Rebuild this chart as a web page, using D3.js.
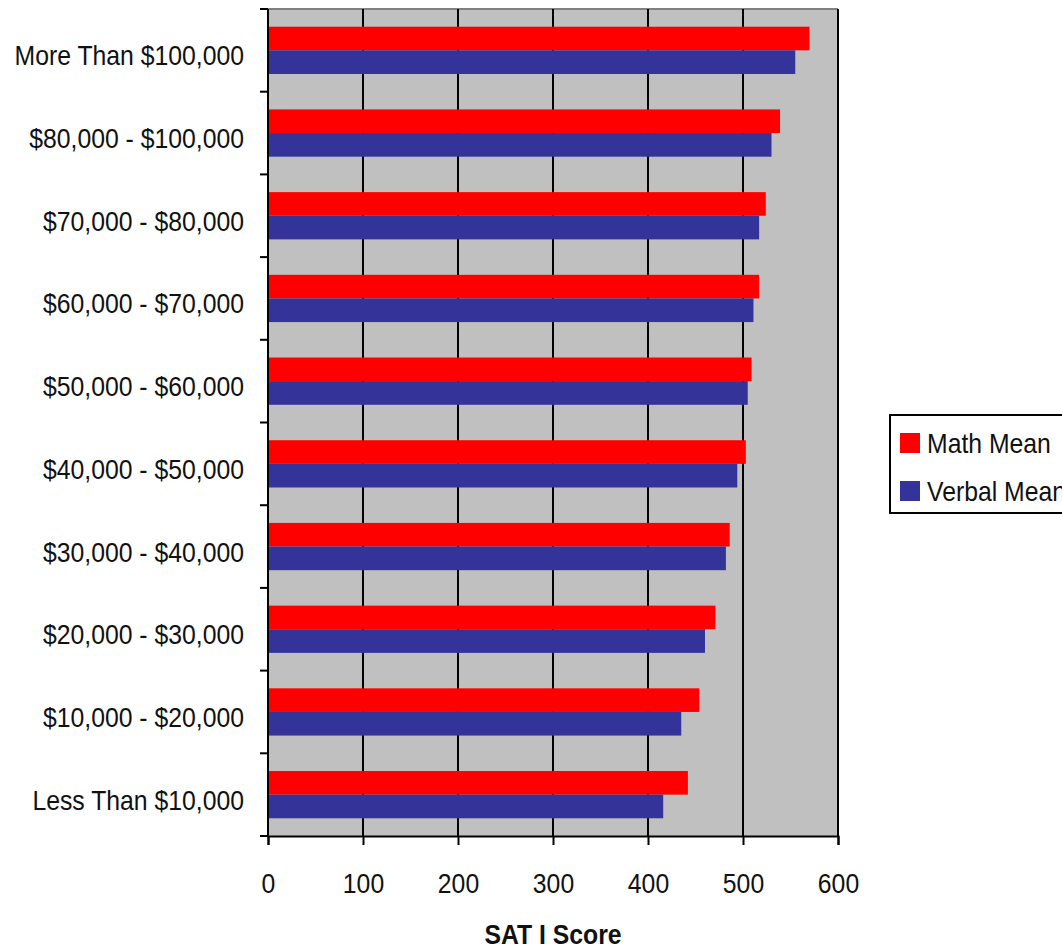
<!DOCTYPE html>
<html>
<head>
<meta charset="utf-8">
<script src="https://cdn.jsdelivr.net/npm/d3@7"></script>
<style>
  html, body { margin: 0; padding: 0; background: #fff; }
  svg { display: block; }
  .lbl { font-family: "Liberation Sans", Arial, sans-serif; fill: #111; }
</style>
</head>
<body>
<svg id="chart" width="1062" height="950"></svg>
<script>
const categories = [
  "More Than $100,000",
  "$80,000 - $100,000",
  "$70,000 - $80,000",
  "$60,000 - $70,000",
  "$50,000 - $60,000",
  "$40,000 - $50,000",
  "$30,000 - $40,000",
  "$20,000 - $30,000",
  "$10,000 - $20,000",
  "Less Than $10,000"
];
const seriesNames = ["Math Mean", "Verbal Mean"];
const mathMean   = [570, 539, 524, 517, 509, 503, 486, 471, 454, 442];
const verbalMean = [555, 530, 517, 511, 505, 494, 482, 460, 435, 416];
const xTicks = [0, 100, 200, 300, 400, 500, 600];
const xTitle = "SAT I Score";
const colors = ["#ff0000", "#333399"];

const W = 1062, H = 950;
const FS = 28, SX = 0.885;   // font size and horizontal condensing
const m = { left: 268, right: W - 838, top: 9, bottom: H - 836 };
const svg = d3.select("#chart");
const iw = W - m.left - m.right, ih = H - m.top - m.bottom;
const g = svg.append("g").attr("transform", `translate(${m.left},${m.top})`);

const x = d3.scaleLinear().domain([0, 600]).range([0, iw]);
const y = d3.scaleBand().domain(categories).range([0, ih]).padding(0);
const ySub = d3.scaleBand().domain(seriesNames).range([0, y.bandwidth()]).paddingInner(0).paddingOuter(0.75);

// plot background
g.append("rect").attr("x", 0).attr("y", 0).attr("width", iw).attr("height", ih).attr("fill", "#c0c0c0");
// top border
g.append("line").attr("x1", 0).attr("x2", iw).attr("y1", 0).attr("y2", 0).attr("stroke", "#808080").attr("stroke-width", 2);

// gridlines
g.selectAll(".grid").data(xTicks.filter(d => d > 0)).enter().append("line")
  .attr("x1", d => x(d)).attr("x2", d => x(d)).attr("y1", 0).attr("y2", ih)
  .attr("stroke", "#000").attr("stroke-width", 2);

// bars
const rows = categories.map((c, i) => ({ c, vals: [mathMean[i], verbalMean[i]] }));
const grp = g.selectAll(".row").data(rows).enter().append("g")
  .attr("transform", d => `translate(0,${y(d.c)})`);
grp.selectAll("rect").data(d => d.vals.map((v, j) => ({ s: seriesNames[j], v, j }))).enter().append("rect")
  .attr("x", 0).attr("y", d => ySub(d.s)).attr("height", ySub.bandwidth())
  .attr("width", d => x(d.v)).attr("fill", d => colors[d.j]);

// y axis: line + ticks at category boundaries
g.append("line").attr("x1", 0).attr("x2", 0).attr("y1", 0).attr("y2", ih).attr("stroke", "#000").attr("stroke-width", 2);
const bounds = categories.map(c => y(c)).concat([ih]);
g.selectAll(".ytick").data(bounds).enter().append("line")
  .attr("x1", -8).attr("x2", 0).attr("y1", d => d).attr("y2", d => d)
  .attr("stroke", "#000").attr("stroke-width", 2);
g.selectAll(".ylab").data(categories).enter().append("text")
  .attr("class", "lbl")
  .attr("transform", d => `translate(-24,${y(d) + y.bandwidth() / 2 + 15}) scale(${SX},1)`)
  .attr("text-anchor", "end")
  .attr("font-size", FS)
  .text(d => d);

// x axis
const xAxis = g.append("g").attr("transform", `translate(0,${ih})`)
  .call(d3.axisBottom(x).tickValues(xTicks).tickSize(9).tickFormat(d3.format("d")));
xAxis.select(".domain").attr("stroke", "#000").attr("stroke-width", 2);
xAxis.selectAll(".tick line").attr("stroke", "#000").attr("stroke-width", 2);
xAxis.selectAll(".tick text")
  .attr("class", "lbl").attr("font-size", FS).attr("fill", "#111")
  .attr("y", null).attr("dy", null)
  .attr("transform", `translate(0,57) scale(${SX},1)`);

// x title
svg.append("text").attr("class", "lbl")
  .attr("transform", `translate(${m.left + iw / 2},944) scale(${SX},1)`)
  .attr("text-anchor", "middle").attr("font-weight", "bold").attr("font-size", FS)
  .text(xTitle);

// legend
const lg = svg.append("g").attr("transform", "translate(890,415)");
lg.append("rect").attr("x", 0).attr("y", 0).attr("width", 200).attr("height", 98)
  .attr("fill", "#fff").attr("stroke", "#000").attr("stroke-width", 2);
const li = lg.selectAll(".li").data(seriesNames).enter().append("g")
  .attr("transform", (d, i) => `translate(10,${18 + i * 48})`);
li.append("rect").attr("width", 20).attr("height", 20).attr("fill", (d, i) => colors[i]);
li.append("text").attr("class", "lbl")
  .attr("transform", `translate(27,20) scale(${SX},1)`)
  .attr("font-size", FS).text(d => d);
</script>
</body>
</html>
